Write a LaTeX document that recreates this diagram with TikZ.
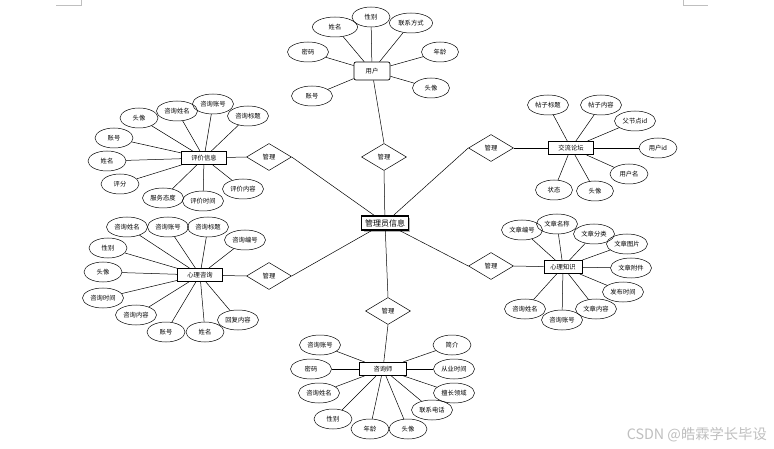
\documentclass[tikz,border=0pt]{standalone}
\usepackage{fontspec}
\newfontfamily\cjk{Noto Sans CJK SC}
\usetikzlibrary{shapes.geometric}
\begin{document}
\begin{tikzpicture}[x=1pt,y=-1pt,
  every node/.style={font=\cjk\fontsize{6.3}{7}\selectfont, inner sep=1pt},
  attr/.style={ellipse, draw, line width=0.5pt, minimum width=41pt, minimum height=20pt, inner sep=0pt},
  ent/.style={rectangle, draw, line width=0.9pt, minimum width=45pt, minimum height=13pt, inner sep=1pt},
  rel/.style={diamond, draw, line width=0.5pt, minimum width=45pt, minimum height=27pt, inner sep=0pt},
  link/.style={line width=0.5pt},
  cornermark/.style={draw=black!25, line width=0.6pt}]
\useasboundingbox (0,0) rectangle (774,449);
\fill[white] (0,0) rectangle (774,449);
% corner marks
\coordinate (m1) at (56,5); \coordinate (m2) at (81,5); \coordinate (m3) at (81,0);
\coordinate (m4) at (683,0); \coordinate (m5) at (683,5); \coordinate (m6) at (708,5);
\draw[cornermark] (m1) -- (m2) -- (m3);
\draw[cornermark] (m4) -- (m5) -- (m6);

% center
\fill[black!30] (364,218) rectangle (410,232);
\node[ent, fill=white, line width=1.2pt, minimum width=47pt, minimum height=14pt, font=\cjk\fontsize{8}{9}\selectfont] (c) at (385,223) {管理员信息};

% relationships
\node[rel] (r1) at (384,157) {管理};
\node[rel] (r2) at (269,157) {管理};
\node[rel] (r3) at (269,276) {管理};
\node[rel] (r4) at (491,148) {管理};
\node[rel] (r5) at (491,266) {管理};
\node[rel] (r6) at (388,311) {管理};

% entities
\node[ent, rounded corners=2pt, minimum width=36pt, minimum height=18pt, line width=0.7pt] (e1) at (372,71) {用户};
\node[ent] (e2) at (204,158) {评价信息};
\node[ent] (e3) at (200,275) {心理咨询};
\node[ent] (e4) at (571,148) {交流论坛};
\node[ent, minimum width=38pt] (e5) at (563,267) {心理知识};
\node[ent, minimum width=47pt] (e6) at (383,369) {咨询师};

\draw[link] (c) -- (r1.south);
\draw[link] (c) -- (r2.east);
\draw[link] (c) -- (r3.east);
\draw[link] (c) -- (r4.west);
\draw[link] (c) -- (r5.west);
\draw[link] (c) -- (r6.north);
\draw[link] (e1) -- (r1.north);
\draw[link] (e2) -- (r2.west);
\draw[link] (e3) -- (r3.west);
\draw[link] (e4) -- (r4.east);
\draw[link] (e5) -- (r5.east);
\draw[link] (e6) -- (r6.south);

% user attributes
\node[attr] (u1) at (312,96) {账号};
\node[attr] (u2) at (308,52) {密码};
\node[attr, minimum width=45pt] (u3) at (335,27) {姓名};
\node[attr, minimum width=38pt] (u4) at (371,17) {性别};
\node[attr, minimum width=43pt] (u5) at (411,23) {联系方式};
\node[attr, minimum width=37pt] (u6) at (440,52) {年龄};
\node[attr, minimum width=37pt] (u7) at (431,88) {头像};
\foreach \a in {u1,u2,u3,u4,u5,u6,u7} \draw[link] (e1) -- (\a);

% evaluation attributes
\node[attr, minimum width=38pt] (p1) at (139,118) {头像};
\node[attr] (p2) at (177,111) {咨询姓名};
\node[attr] (p3) at (213,104) {咨询账号};
\node[attr] (p4) at (248,116) {咨询标题};
\node[attr, minimum width=38pt] (p5) at (114,138) {账号};
\node[attr, minimum width=38pt] (p6) at (107,161) {姓名};
\node[attr, minimum width=38pt] (p7) at (120,184) {评分};
\node[attr] (p8) at (163,198) {服务态度};
\node[attr] (p9) at (203,201) {评价时间};
\node[attr] (p10) at (243,189) {评价内容};
\foreach \a in {p1,p2,p3,p4,p5,p6,p7,p8,p9,p10} \draw[link] (e2) -- (\a);

% consultation attributes
\node[attr] (q1) at (127,227) {咨询姓名};
\node[attr] (q2) at (168,227) {咨询账号};
\node[attr] (q3) at (208,227) {咨询标题};
\node[attr] (q4) at (245,240) {咨询编号};
\node[attr, minimum width=38pt] (q5) at (108,248) {性别};
\node[attr, minimum width=38pt] (q6) at (103,272) {头像};
\node[attr] (q7) at (103,298) {咨询时间};
\node[attr] (q8) at (136,315) {咨询内容};
\node[attr, minimum width=38pt] (q9) at (166,332) {账号};
\node[attr, minimum width=38pt] (q10) at (205,332) {姓名};
\node[attr] (q11) at (238,320) {回复内容};
\foreach \a in {q1,q2,q3,q4,q5,q6,q7,q8,q9,q10,q11} \draw[link] (e3) -- (\a);

% forum attributes
\node[attr] (f1) at (548,105) {帖子标题};
\node[attr] (f2) at (601,105) {帖子内容};
\node[attr] (f3) at (635,121) {父节点id};
\node[attr, minimum width=38pt] (f4) at (658,148) {用户id};
\node[attr, minimum width=38pt] (f5) at (629,174) {用户名};
\node[attr, minimum width=37pt] (f6) at (554,190) {状态};
\node[attr, minimum width=37pt] (f7) at (595,191) {头像};
\foreach \a in {f1,f2,f3,f4,f5,f6,f7} \draw[link] (e4) -- (\a);

% knowledge attributes
\node[attr] (k1) at (522,230) {文章编号};
\node[attr] (k2) at (557,224) {文章名称};
\node[attr] (k3) at (594,234) {文章分类};
\node[attr] (k4) at (627,244) {文章图片};
\node[attr] (k5) at (631,268) {文章附件};
\node[attr] (k6) at (623,292) {发布时间};
\node[attr] (k7) at (596,309) {文章内容};
\node[attr] (k8) at (562,320) {咨询账号};
\node[attr] (k9) at (525,309) {咨询姓名};
\foreach \a in {k1,k2,k3,k4,k5,k6,k7,k8,k9} \draw[link] (e5) -- (\a);

% counselor attributes
\node[attr] (s1) at (320,345) {咨询账号};
\node[attr] (s2) at (311,369) {密码};
\node[attr] (s3) at (319,393) {咨询姓名};
\node[attr, minimum width=38pt] (s4) at (333,419) {性别};
\node[attr, minimum width=38pt] (s5) at (370,429) {年龄};
\node[attr, minimum width=38pt] (s6) at (408,429) {头像};
\node[attr] (s7) at (432,410) {联系电话};
\node[attr] (s8) at (454,393) {擅长领域};
\node[attr] (s9) at (454,369) {从业时间};
\node[attr, minimum width=38pt] (s10) at (452,345) {简介};
\foreach \a in {s1,s2,s3,s4,s5,s6,s7,s8,s9,s10} \draw[link] (e6) -- (\a);

% watermark
\node[anchor=east, text=black!25, font=\cjk\fontsize{14.3}{15}\selectfont, inner sep=0pt] (wm) at (767,435) {CSDN @皓霖学长毕设};
\end{tikzpicture}
\end{document}
